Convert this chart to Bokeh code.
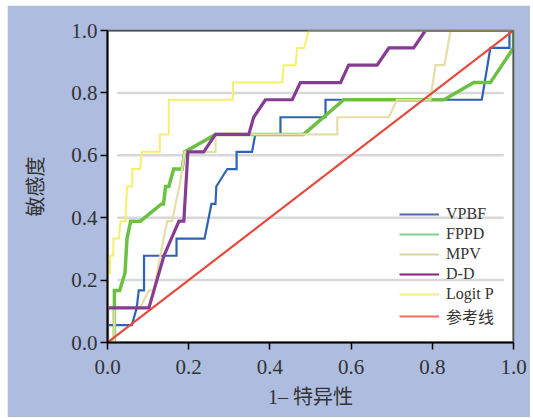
from bokeh.plotting import figure
from bokeh.models import Legend, LegendItem, NumeralTickFormatter, FixedTicker, Range1d, Span
from bokeh.embed import file_html
from bokeh.resources import INLINE

# ---- data (1 - specificity, sensitivity) ----
vpbf_x = [0.0, 0.0, 0.06, 0.072, 0.077, 0.09, 0.09, 0.17, 0.17, 0.239, 0.256, 0.266, 0.268, 0.295,
          0.318, 0.318, 0.356, 0.364, 0.426, 0.426, 0.537, 0.537, 0.922, 0.943, 0.99, 0.99, 1.0]
vpbf_y = [0.0, 0.056, 0.056, 0.111, 0.167, 0.167, 0.278, 0.278, 0.333, 0.333, 0.444, 0.444, 0.5, 0.556,
          0.556, 0.611, 0.611, 0.667, 0.667, 0.722, 0.722, 0.778, 0.778, 0.944, 0.944, 1.0, 1.0]

fppd_x = [0.0, 0.017, 0.017, 0.03, 0.043, 0.048, 0.057, 0.081, 0.133, 0.138, 0.143, 0.151, 0.163,
          0.184, 0.19, 0.266, 0.483, 0.582, 0.829, 0.902, 0.943, 1.0, 1.0]
fppd_y = [0.0, 0.0, 0.167, 0.167, 0.222, 0.333, 0.389, 0.389, 0.444, 0.444, 0.5, 0.5, 0.556,
          0.556, 0.611, 0.667, 0.667, 0.778, 0.778, 0.833, 0.833, 0.944, 1.0]

mpv_x = [0.0, 0.017, 0.017, 0.08, 0.102, 0.114, 0.122, 0.13, 0.147, 0.159, 0.18, 0.184, 0.19,
         0.266, 0.266, 0.566, 0.566, 0.693, 0.713, 0.795, 0.808, 0.83, 0.845, 1.0]
mpv_y = [0.0, 0.0, 0.111, 0.111, 0.167, 0.167, 0.222, 0.278, 0.389, 0.389, 0.52, 0.556, 0.611,
         0.611, 0.667, 0.667, 0.722, 0.722, 0.778, 0.778, 0.889, 0.889, 1.0, 1.0]

dd_x = [0.0, 0.0, 0.102, 0.139, 0.176, 0.188, 0.198, 0.237, 0.266, 0.348, 0.36, 0.389, 0.455,
        0.475, 0.574, 0.594, 0.664, 0.693, 0.754, 0.783, 1.0]
dd_y = [0.0, 0.111, 0.111, 0.278, 0.389, 0.389, 0.611, 0.611, 0.667, 0.667, 0.722, 0.778, 0.778,
        0.833, 0.833, 0.889, 0.889, 0.944, 0.944, 1.0, 1.0]

logit_x = [0.0, 0.0, 0.006, 0.006, 0.014, 0.015, 0.028, 0.032, 0.044, 0.048, 0.061, 0.061, 0.08,
           0.085, 0.129, 0.129, 0.151, 0.151, 0.309, 0.309, 0.43, 0.434, 0.463, 0.467, 0.484,
           0.496, 1.0]
logit_y = [0.0, 0.222, 0.222, 0.278, 0.278, 0.333, 0.333, 0.389, 0.389, 0.5, 0.5, 0.556, 0.556,
           0.611, 0.611, 0.667, 0.667, 0.778, 0.778, 0.833, 0.833, 0.889, 0.889, 0.944, 0.944,
           1.0, 1.0]

ref_x = [0.0, 1.0]
ref_y = [0.0, 1.0]

series_names = ["VPBF", "FPPD", "MPV", "D-D", "Logit P", "参考线"]
tick_values = [0.0, 0.2, 0.4, 0.6, 0.8, 1.0]
grid_values = [0.2, 0.4, 0.6, 0.8]

# ---- styling ----
BG = "#adbcdf"
SERIF = "Liberation Serif, Noto Sans CJK SC"
BORDER = "#555555"
curve_colors = ["#2e62b5", "#6cc044", "#e3dfa8", "#873c93", "#f4f06c", "#e64a3f"]
curve_widths = [2.2, 3.5, 2.2, 3.2, 2.0, 2.2]
legend_colors = ["#5469a8", "#7dd38c", "#d9d6a4", "#85237f", "#f1ec88", "#ef6c6c"]

p = figure(frame_width=406, frame_height=312,
           x_range=Range1d(0, 1), y_range=Range1d(0, 1),
           output_backend="svg", toolbar_location=None,
           margin=(5, 0, 0, 7),
           min_border_left=100, min_border_right=17, min_border_top=25, min_border_bottom=75,
           background_fill_color="white", border_fill_color=BG)

p.xgrid.visible = False
p.ygrid.visible = False
p.outline_line_color = BORDER
p.outline_line_width = 1.5

# inset horizontal grid lines
p.segment(x0=[0.024] * len(grid_values), x1=[0.976] * len(grid_values),
          y0=grid_values, y1=grid_values, line_color="#d8d8d8", line_width=2.5)

xs = [vpbf_x, fppd_x, mpv_x, dd_x, logit_x, ref_x]
ys = [vpbf_y, fppd_y, mpv_y, dd_y, logit_y, ref_y]
for x, y, c, w in zip(xs, ys, curve_colors, curve_widths):
    p.line(x, y, line_color=c, line_width=w, line_join="miter")

# frame border drawn over the curves at the top and right edges
p.add_layout(Span(location=1.0, dimension="width", line_color=BORDER, line_width=2))
p.add_layout(Span(location=1.0, dimension="height", line_color=BORDER, line_width=2))

nan = float("nan")
items = []
for name, c in zip(series_names, legend_colors):
    r = p.line([nan], [nan], line_color=c, line_width=2)
    items.append(LegendItem(label=name, renderers=[r]))

legend = Legend(items=items, location=(292, 14), background_fill_alpha=0,
                border_line_alpha=0, padding=0, margin=0, spacing=0,
                glyph_width=40, glyph_height=20, label_height=20, label_standoff=7,
                label_text_font=SERIF, label_text_font_size="16px", label_text_color="#333333")
p.add_layout(legend, "center")

for ax in (p.xaxis[0], p.yaxis[0]):
    ax.ticker = FixedTicker(ticks=tick_values)
    ax.formatter = NumeralTickFormatter(format="0.0")
    ax.axis_line_color = "black"
    ax.axis_line_width = 2
    ax.major_tick_line_color = "black"
    ax.major_tick_line_width = 1.5
    ax.major_tick_in = 0
    ax.major_tick_out = 7
    ax.minor_tick_line_color = None
    ax.major_label_text_font = SERIF
    ax.major_label_text_font_size = "21px"
    ax.major_label_text_color = "#333333"
    ax.axis_label_text_font = SERIF
    ax.axis_label_text_font_size = "20px"
    ax.axis_label_text_font_style = "normal"
    ax.axis_label_text_color = "#333333"

p.xaxis.axis_label = "1– 特异性"
p.yaxis.axis_label = "敏感度"
p.xaxis.major_label_standoff = 10
p.yaxis.major_label_standoff = 3
p.xaxis.axis_label_standoff = 9
p.yaxis.axis_label_standoff = 21

open("out.html", "w").write(file_html(p, INLINE))
